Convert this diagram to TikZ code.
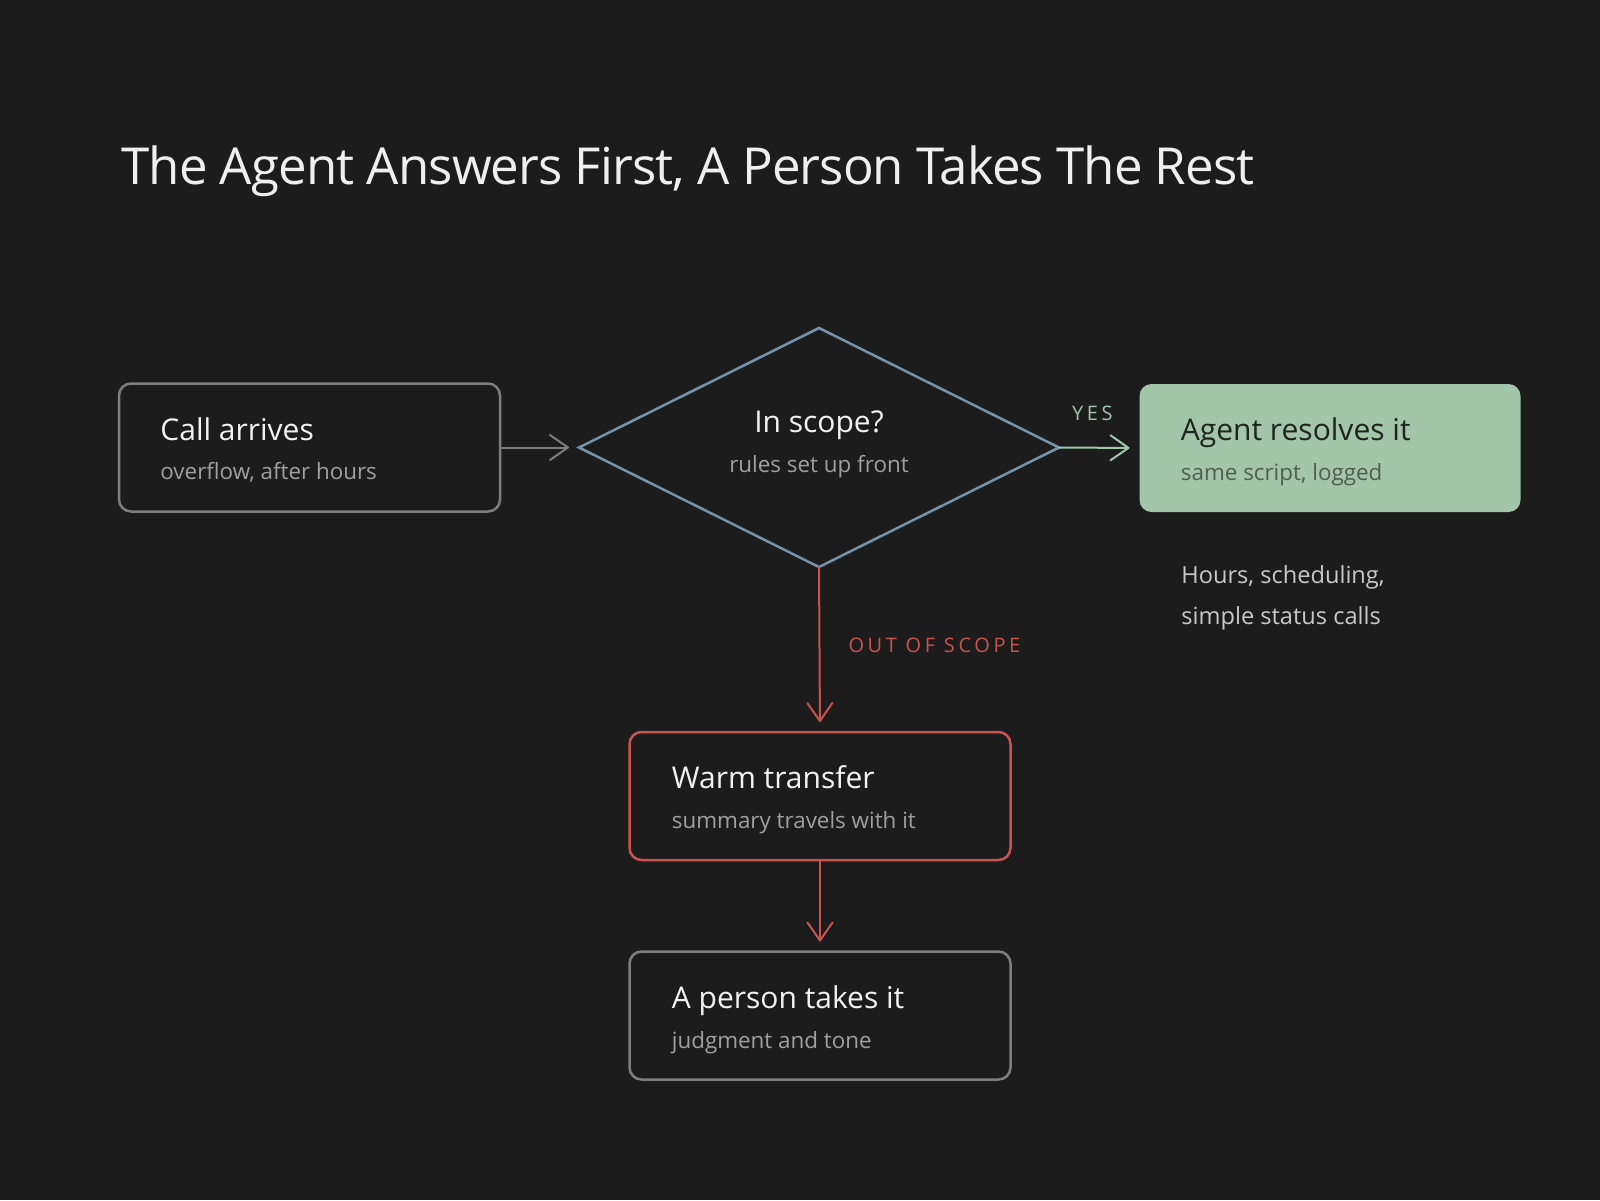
\documentclass[tikz,border=0pt]{standalone}
\usepackage{fontspec}
\setmainfont{Open Sans}
\newfontfamily\capsfont[LetterSpace=18]{Open Sans}
\newfontfamily\titlefont[LetterSpace=-1.8]{Open Sans}
\usepackage{tikz}
\usetikzlibrary{shapes.geometric, arrows.meta, calc}

\definecolor{bg}{HTML}{1C1C1C}
\definecolor{titlecol}{HTML}{EFEFEF}
\definecolor{headcol}{HTML}{F2F2F2}
\definecolor{subcol}{HTML}{A0A0A0}
\definecolor{boxgray}{HTML}{7E7E7E}
\definecolor{scopecol}{HTML}{7692AE}
\definecolor{okgreen}{HTML}{A3C6AA}
\definecolor{okhead}{HTML}{1E241F}
\definecolor{oksub}{HTML}{4E5E51}
\definecolor{outred}{HTML}{C9534F}
\definecolor{notecol}{HTML}{C8C8C8}

\begin{document}
\begin{tikzpicture}[x=0.5pt, y=-0.5pt,
    box/.style={draw=boxgray, line width=1.25pt, rounded corners=6pt,
        minimum width=190.5pt, minimum height=64pt, inner sep=0pt, outer sep=0pt},
    head/.style={anchor=base west, inner sep=0pt, text=headcol,
        font=\fontsize{15}{18}\selectfont},
    sub/.style={anchor=base west, inner sep=0pt, text=subcol,
        font=\fontsize{11.2}{13}\selectfont},
    note/.style={anchor=base west, inner sep=0pt, text=notecol,
        font=\fontsize{11.8}{14}\selectfont},
    capslbl/.style={inner sep=0pt, font=\capsfont\fontsize{10}{12}\selectfont},
    arr/.style={-{Straight Barb[length=9pt, width=12.5pt, round]}, line width=1pt,
        line cap=round, shorten >=5pt}]

    % canvas
    \fill[bg] (0,0) rectangle (1600,1200);
    \useasboundingbox (0,0) rectangle (1600,1200);

    \node[anchor=base west, inner sep=0pt, text=titlecol,
        font=\titlefont\fontsize{25.5}{30}\selectfont] (ttl) at (121,184)
        {The Agent Answers First, A Person Takes The Rest};

    % boxes
    \node[box] (call) at (309.5,447.5) {};
    \node[draw=scopecol, line width=1.25pt, diamond, minimum width=240pt,
        minimum height=119.5pt, inner sep=0pt, outer sep=0pt] (scope) at (819,447.5) {};
    \node[box, draw=none, fill=okgreen] (agent) at (1330,448) {};
    \node[box, draw=outred] (warm) at (820,796) {};
    \node[box] (person) at (820,1015.5) {};

    % texts
    \node[head] (call-h) at ($(call.west)+(41,-7.5)$) {Call arrives};
    \node[sub] (call-s) at ($(call.west)+(41,31.5)$) {overflow, after hours};

    \node[head, anchor=base] (scope-h) at ($(scope.center)+(0,-15)$) {In scope?};
    \node[sub, anchor=base] (scope-s) at ($(scope.center)+(0,25)$) {rules set up front};

    \node[head, text=okhead] (agent-h) at ($(agent.west)+(41,-8)$) {Agent resolves it};
    \node[sub, text=oksub] (agent-s) at ($(agent.west)+(41,32)$) {same script, logged};

    \node[head] (warm-h) at ($(warm.west)+(42,-8)$) {Warm transfer};
    \node[sub] (warm-s) at ($(warm.west)+(42,32)$) {summary travels with it};

    \node[head] (person-h) at ($(person.west)+(42,-7.5)$) {A person takes it};
    \node[sub] (person-s) at ($(person.west)+(42,32.5)$) {judgment and tone};

    \node[note] (note1) at (1181,583) {Hours, scheduling,};
    \node[note] (note2) at (1181,624) {simple status calls};

    % connectors
    \draw[arr, draw=boxgray] (call.east) -- (scope.west);
    \draw[arr, draw=okgreen] (scope.east) -- (agent.west)
        node[capslbl, midway, anchor=base, xshift=-3.5pt, yshift=13.5pt, text=okgreen] (yes) {YES};
    \draw[arr, draw=outred] (scope.south) -- (warm.north)
        node[capslbl, midway, anchor=base west, xshift=14pt, yshift=-1.25pt, text=outred] (out) {OUT OF SCOPE};
    \draw[arr, draw=outred] (warm.south) -- (person.north);
\end{tikzpicture}
\end{document}
